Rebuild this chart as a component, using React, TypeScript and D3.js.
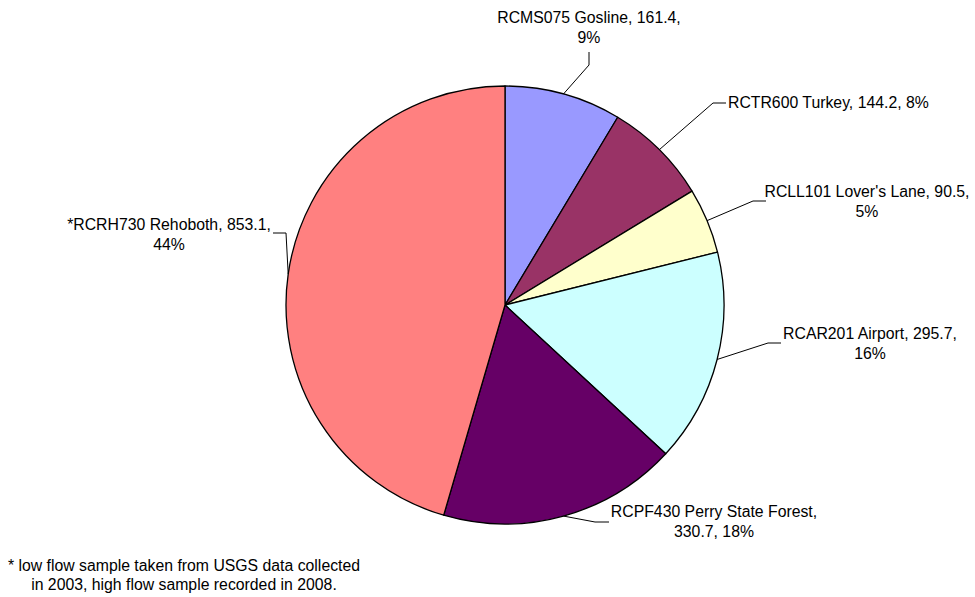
import React from "react";
import * as d3 from "d3";

const names = [
  "RCMS075 Gosline",
  "RCTR600 Turkey",
  "RCLL101 Lover's Lane",
  "RCAR201 Airport",
  "RCPF430 Perry State Forest",
  "*RCRH730 Rehoboth",
];
const values = [161.4, 144.2, 90.5, 295.7, 330.7, 853.1];
const colors = ["#9999FF", "#993366", "#FFFFCC", "#CCFFFF", "#660066", "#FF8080"];

// label lines (text split as in the reference)
const labelLines = [
  ["RCMS075 Gosline, 161.4,", "9%"],
  ["RCTR600 Turkey, 144.2, 8%"],
  ["RCLL101 Lover's Lane, 90.5,", "5%"],
  ["RCAR201 Airport, 295.7,", "16%"],
  ["RCPF430 Perry State Forest,", "330.7, 18%"],
  ["*RCRH730 Rehoboth, 853.1,", "44%"],
];
// layout: text anchor x, first baseline y, anchor, elbow points for leader lines
const labelLayout = [
  { x: 589, y: 23, anchor: "middle", elbow: [[589, 65], [589, 52]] },
  { x: 728, y: 108, anchor: "start", elbow: [[713, 103], [726, 103]] },
  { x: 867, y: 197, anchor: "middle", elbow: [[753, 201], [766, 201]] },
  { x: 870, y: 339, anchor: "middle", elbow: [[768, 343], [781, 343]] },
  { x: 714, y: 517, anchor: "middle", elbow: [[595, 522], [609, 522]] },
  { x: 169, y: 230, anchor: "middle", elbow: [[286, 233], [273, 233]] },
];

const footnote = [
  "* low flow sample taken from USGS data collected",
  "in 2003, high flow sample recorded in 2008.",
];

export default function App() {
  const W = 975;
  const H = 597;
  const cx = 505;
  const cy = 305;
  const R = 219;
  const pie = d3.pie<number>().sort(null).value((d) => d)(values);
  const arc = d3.arc<d3.PieArcDatum<number>>().innerRadius(0).outerRadius(R);
  const font = "'Liberation Sans', Arial, sans-serif";
  const fs = 15.8;

  return (
    <svg
      width={W}
      height={H}
      style={{ position: "absolute", left: 0, top: 0, background: "#fff" }}
      fontFamily={font}
    >
      <g transform={`translate(${cx},${cy})`}>
        {pie.map((p, i) => (
          <path
            key={names[i]}
            d={arc(p) || ""}
            fill={colors[i]}
            stroke="#000"
            strokeWidth={1.3}
            strokeLinejoin="round"
          />
        ))}
      </g>
      {pie.map((p, i) => {
        const mid = (p.startAngle + p.endAngle) / 2;
        const sx = cx + R * Math.sin(mid);
        const sy = cy - R * Math.cos(mid);
        const L = labelLayout[i];
        const pts = [[sx, sy], ...L.elbow];
        const line = d3.line()(pts as [number, number][]) || "";
        return (
          <g key={"lab" + i}>
            <path d={line} fill="none" stroke="#000" strokeWidth={1} />
            <text
              x={L.x}
              y={L.y}
              fontSize={fs}
              textAnchor={L.anchor as any}
              fill="#000"
            >
              {labelLines[i].map((t, j) => (
                <tspan key={j} x={L.x} dy={j === 0 ? 0 : 20}>
                  {t}
                </tspan>
              ))}
            </text>
          </g>
        );
      })}
      <text x={184} y={571} fontSize={fs} textAnchor="middle" fill="#000">
        {footnote.map((t, j) => (
          <tspan key={j} x={184} dy={j === 0 ? 0 : 19}>
            {t}
          </tspan>
        ))}
      </text>
    </svg>
  );
}
